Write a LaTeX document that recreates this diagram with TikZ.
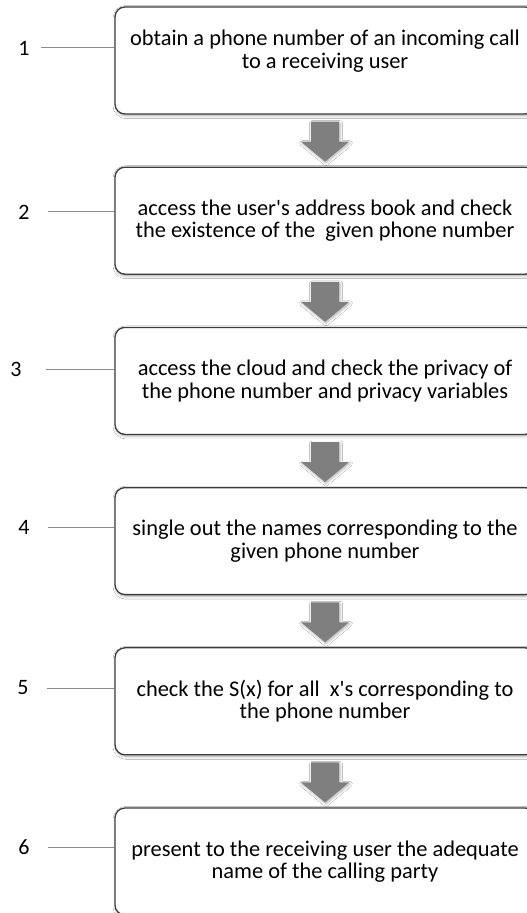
\documentclass[tikz,border=0pt]{standalone}
\usepackage{fontspec}
\setmainfont{Carlito}
\usetikzlibrary{calc,shadows.blur}
\definecolor{boxline}{HTML}{3C3C3C}
\definecolor{arrowgray}{HTML}{7F7F7F}
\definecolor{tickgray}{HTML}{8C8C8C}
\begin{document}
\begin{tikzpicture}[x=1pt,y=-1pt,
  stepbox/.style={draw=boxline, line width=1.3pt, rounded corners=10pt, fill=white,
    minimum width=420pt, minimum height=107pt, align=center, inner sep=0pt,
    font=\fontsize{22.4}{22.5}\selectfont,
    blur shadow={shadow xshift=1pt, shadow yshift=-1.5pt, shadow blur radius=3pt, shadow opacity=35}},
  numlabel/.style={font=\fontsize{22}{22}\selectfont, inner sep=0pt},
  tick/.style={draw=tickgray, line width=0.9pt},
  blockarrow/.style={fill=arrowgray,
    blur shadow={shadow xshift=1pt, shadow yshift=-1.5pt, shadow blur radius=2.5pt, shadow opacity=30}}]
\clip (0,0) rectangle (527,913);
\fill[white] (0,0) rectangle (527,913);

\node[stepbox] (b1) at (325,60.5) {obtain a phone number of an incoming call\\to a receiving user\\~};
\node[stepbox] (b2) at (325,220.7) {access the user\textquotesingle s address book and check\\the existence of the \ given phone number};
\node[stepbox] (b3) at (325,380.9) {access the cloud and check the privacy of\\the phone number and privacy variables};
\node[stepbox] (b4) at (325,541.1) {single out the names corresponding to the\\given phone number};
\node[stepbox] (b5) at (325,701.3) {check the S(x) for all \ x\textquotesingle s corresponding to\\the phone number};
\node[stepbox] (b6) at (325,861.5) {present to the receiving user the adequate\\name of the calling party};

\foreach \p/\q in {b1/b2,b2/b3,b3/b4,b4/b5,b5/b6}{
  \fill[blockarrow] ($(\p.south)+(-14,7)$) -- ($(\p.south)+(14,7)$) -- ($(\p.south)+(14,27)$)
    -- ($(\p.south)+(24,27)$) -- ($(\q.north)+(0,-5)$) -- ($(\p.south)+(-24,27)$)
    -- ($(\p.south)+(-14,27)$) -- cycle;
}

\node[numlabel] (n1) at (24,48) {1};
\node[numlabel] (n2) at (24,212) {2};
\node[numlabel] (n3) at (16,369) {3};
\node[numlabel] (n4) at (24,527) {4};
\node[numlabel] (n5) at (23,688) {5};
\node[numlabel] (n6) at (24,847) {6};

\coordinate (t1) at (41,47);
\coordinate (t2) at (48,211);
\coordinate (t3) at (46,369);
\coordinate (t4) at (48,527);
\coordinate (t5) at (47,688);
\coordinate (t6) at (48,847);
\foreach \k in {1,...,6}{
  \draw[tick] (t\k) -- (t\k -| b\k.west);
}
\end{tikzpicture}
\end{document}
